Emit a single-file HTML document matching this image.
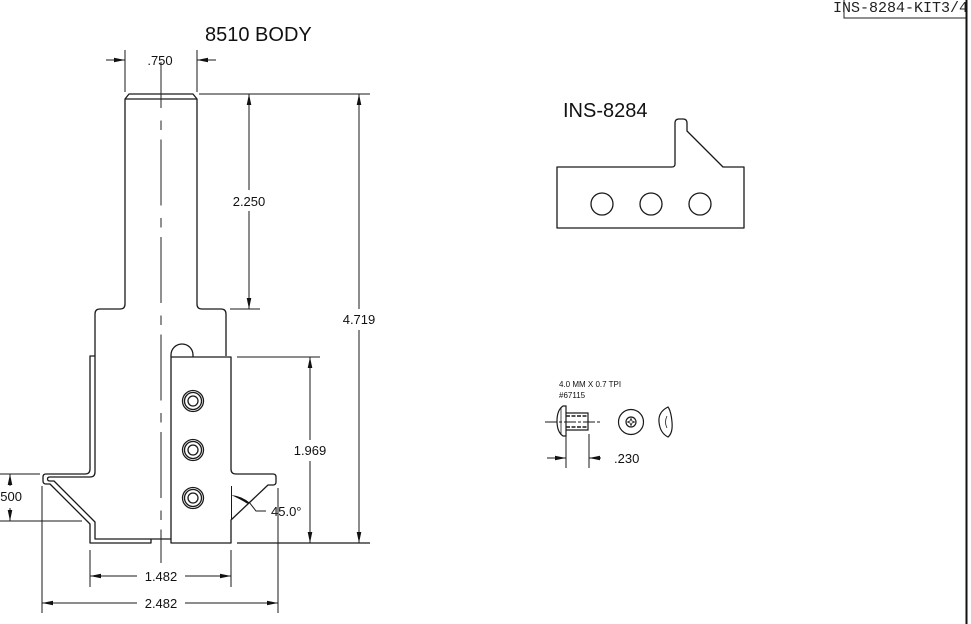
<!DOCTYPE html>
<html><head><meta charset="utf-8"><style>
html,body{margin:0;padding:0;background:#fff;}
svg{display:block;}
text{font-family:"Liberation Sans",Arial,sans-serif;fill:#111;}
</style></head><body>
<svg width="971" height="624" viewBox="0 0 971 624" xmlns="http://www.w3.org/2000/svg">
<rect width="971" height="624" fill="#fff"/>

<!-- Top-right title block -->
<text x="833" y="12" style="font-family:'Liberation Mono','DejaVu Sans Mono',monospace;font-size:15px;fill:#222">INS-8284-KIT3/4</text>
<polyline points="844,0 844,18 966,18" fill="none" stroke="#222" stroke-width="1"/>
<line x1="966.5" y1="0" x2="966.5" y2="624" stroke="#111" stroke-width="2"/>

<!-- Title -->
<text x="205" y="41" style="font-size:20px">8510 BODY</text>

<g fill="none" stroke="#1a1a1a" stroke-width="1.3" stroke-linejoin="round">
  <!-- shank + body -->
  <path d="M95 356 L95 314 Q95 309 100 309 L120 309 Q125 309 125 304 L125 99 L129 94 L193 94 L197 99 L197 304 Q197 309 202 309 L221 309 Q226 309 226 314 L226 356"/>
  <line x1="125" y1="99" x2="197" y2="99"/>
  <!-- body inner outline (left side) -->
  <path d="M95 356 L95 472 Q95 477 90 477 L50 477 Q47.5 477 47.5 479 Q47.5 481 50 481 L54 481 L95 522 L95 539 L171 539"/>
  <!-- knife outer outline -->
  <path d="M95 356 L90 356 L90 469 Q90 474 85 474 L46 474 Q43 474 43 477 L43 481 Q43 484 46 484 L50 484 L90 524 L90 543 L151 543 L151 539"/>
  <!-- insert plate -->
  <path d="M171 357 L171 543 L231 543 L231 520 L268 485 L273 485 Q276 485 276 482 L276 477 Q276 474 273 474 L236 474 Q231 474 231 469 L231 357 Z"/>
  <!-- bump -->
  <path d="M171 357 L171 355 A11 11 0 0 1 193 355 L193 357"/>
  <!-- holes -->
  <circle cx="193" cy="401" r="10.5"/><circle cx="193" cy="401" r="8.5"/><circle cx="193" cy="401" r="5"/>
  <circle cx="193" cy="450" r="10.5"/><circle cx="193" cy="450" r="8.5"/><circle cx="193" cy="450" r="5"/>
  <circle cx="193" cy="498" r="10.5"/><circle cx="193" cy="498" r="8.5"/><circle cx="193" cy="498" r="5"/>
</g>

<!-- centerline -->
<line x1="161" y1="62" x2="161" y2="563" stroke="#222" stroke-width="1" stroke-dasharray="66 12.5 9.5 9.5" stroke-dashoffset="20"/>

<!-- dimension / extension lines -->
<g stroke="#1a1a1a" stroke-width="1" fill="none">
  <!-- .750 -->
  <line x1="125" y1="50" x2="125" y2="92"/>
  <line x1="197" y1="50" x2="197" y2="92"/>
  <line x1="106" y1="60" x2="125" y2="60"/>
  <line x1="197" y1="60" x2="216" y2="60"/>
  <!-- top ext -->
  <line x1="199" y1="94" x2="370" y2="94"/>
  <!-- 2.250 -->
  <line x1="230" y1="309" x2="260" y2="309"/>
  <line x1="249" y1="94" x2="249" y2="190"/>
  <line x1="249" y1="211" x2="249" y2="309"/>
  <!-- 4.719 -->
  <line x1="359" y1="94" x2="359" y2="309"/>
  <line x1="359" y1="330" x2="359" y2="543"/>
  <line x1="237" y1="543" x2="370" y2="543" stroke-width="1.3"/>
  <!-- 1.969 -->
  <line x1="237" y1="357" x2="320" y2="357"/>
  <line x1="310" y1="357" x2="310" y2="440"/>
  <line x1="310" y1="461" x2="310" y2="543"/>
  <!-- .500 -->
  <line x1="0" y1="474" x2="40" y2="474"/>
  <line x1="0" y1="521" x2="82" y2="521"/>
  <line x1="10" y1="474" x2="10" y2="486"/>
  <line x1="10" y1="508" x2="10" y2="521"/>
  <!-- 1.482 -->
  <line x1="90" y1="550" x2="90" y2="587"/>
  <line x1="231" y1="550" x2="231" y2="587"/>
  <line x1="90" y1="576" x2="137" y2="576"/>
  <line x1="185" y1="576" x2="231" y2="576"/>
  <!-- 2.482 -->
  <line x1="42" y1="486" x2="42" y2="613"/>
  <line x1="278" y1="488" x2="278" y2="613"/>
  <line x1="42" y1="603" x2="137" y2="603"/>
  <line x1="185" y1="603" x2="278" y2="603"/>
  <!-- 45 deg ref line -->
  <line x1="231.5" y1="486" x2="231.5" y2="520"/>
  <path d="M249 502 L256 511 L266 511"/>
</g>

<!-- arrowheads -->
<g fill="#111">
  <polygon points="125,60 114,57.7 114,62.3"/>
  <polygon points="197,60 208,57.7 208,62.3"/>
  <polygon points="249,94 246.7,105 251.3,105"/>
  <polygon points="249,309 246.7,298 251.3,298"/>
  <polygon points="359,94 356.7,105 361.3,105"/>
  <polygon points="359,543 356.7,532 361.3,532"/>
  <polygon points="310,357 307.7,368 312.3,368"/>
  <polygon points="310,543 307.7,532 312.3,532"/>
  <polygon points="10,474 7.7,485 12.3,485"/>
  <polygon points="10,521 7.7,510 12.3,510"/>
  <polygon points="90,576 101,573.7 101,578.3"/>
  <polygon points="231,576 220,573.7 220,578.3"/>
  <polygon points="42,603 53,600.7 53,605.3"/>
  <polygon points="278,603 267,600.7 267,605.3"/>
  <path d="M231 495 Q242 496 250 503 L247 503.5 Q240 499 231 495 Z"/>
</g>

<!-- dimension texts -->
<g style="font-size:13px">
  <text x="160" y="65" text-anchor="middle">.750</text>
  <text x="249" y="206" text-anchor="middle">2.250</text>
  <text x="359" y="324" text-anchor="middle">4.719</text>
  <text x="310" y="455" text-anchor="middle">1.969</text>
  <text x="22" y="501" text-anchor="end">.500</text>
  <text x="161" y="581" text-anchor="middle">1.482</text>
  <text x="161" y="608" text-anchor="middle">2.482</text>
  <text x="271" y="516">45.0°</text>
</g>

<!-- INS-8284 insert -->
<text x="563" y="117" style="font-size:20px">INS-8284</text>
<g fill="none" stroke="#1a1a1a" stroke-width="1.3" stroke-linejoin="round">
  <path d="M557 167 L672 167 Q675 167 675 164 L675 123 Q675 119 679 119 L683 119 Q687 119 687 123 L687 131 L723 167 L744 167 L744 228 L557 228 Z"/>
  <circle cx="602" cy="204" r="11"/>
  <circle cx="651" cy="204" r="11"/>
  <circle cx="700" cy="204" r="11"/>
</g>

<!-- screw -->
<text x="559" y="387" style="font-size:8px">4.0 MM X 0.7 TPI</text>
<text x="559" y="398" style="font-size:8px">#67115</text>
<g fill="none" stroke="#1a1a1a" stroke-width="1.2">
  <path d="M566 406 L563 406 Q557 410 557 421 Q557 432 563 436 L566 436 Z"/>
  <line x1="561" y1="407" x2="561" y2="435" stroke-width="0.8"/>
  <path d="M566 413 L588 413 L588 430 L566 430"/>
  <line x1="566" y1="416" x2="588" y2="416" stroke-dasharray="4 1.5" stroke-width="1.4"/>
  <line x1="566" y1="427" x2="588" y2="427" stroke-dasharray="4 1.5" stroke-width="1.4"/>
  <line x1="545" y1="422" x2="600" y2="422" stroke-width="0.9" stroke-dasharray="12 2 3 2"/>
  <!-- .230 -->
  <line x1="566" y1="434" x2="566" y2="468" stroke-width="1"/>
  <line x1="589" y1="434" x2="589" y2="468" stroke-width="1"/>
  <line x1="547" y1="458" x2="566" y2="458" stroke-width="1"/>
  <line x1="589" y1="458" x2="601" y2="458" stroke-width="1"/>
  <!-- front view -->
  <circle cx="631" cy="422" r="12.5"/>
  <circle cx="631" cy="422" r="5"/>
  <path d="M631 418.5 L632 421 L634.5 422 L632 423 L631 425.5 L630 423 L627.5 422 L630 421 Z" stroke-width="0.8"/>
  <!-- side dome -->
  <path d="M668 407 Q658 412 659 422 Q660 433 668 437 Q673 433 672 422 Q671 411 668 407 Z"/>
  <path d="M667 416 Q664 422 667 428" stroke-width="0.8"/>
</g>
<g fill="#111">
  <polygon points="566,458 555,455.7 555,460.3"/>
  <polygon points="589,458 600,455.7 600,460.3"/>
</g>
<text x="614" y="463" style="font-size:13px">.230</text>
</svg>
</body></html>
